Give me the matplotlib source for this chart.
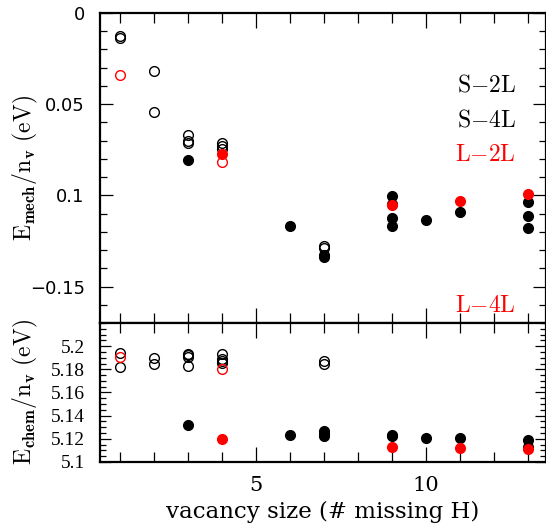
import matplotlib
matplotlib.use("Agg")
import matplotlib.pyplot as plt
from matplotlib.ticker import MultipleLocator

plt.rcParams["mathtext.fontset"] = "cm"

# vacancy size (# missing H) and energies per vacancy
mech_s2l_x = [1, 1, 2, 2, 3, 3, 3, 4, 4, 4, 7, 7]
mech_s2l_y = [-0.0124, -0.0135, -0.0318, -0.0544, -0.0668, -0.0700, -0.0712,
              -0.0714, -0.0730, -0.0745, -0.1276, -0.1289]
mech_s4l_x = [3, 6, 7, 7, 9, 9, 9, 9, 10, 11, 13, 13, 13]
mech_s4l_y = [-0.0805, -0.1166, -0.1325, -0.1340, -0.1006, -0.1045, -0.1124,
              -0.1170, -0.1134, -0.1090, -0.1037, -0.1115, -0.1181]
mech_l2l_x = [1, 4]
mech_l2l_y = [-0.0340, -0.0818]
mech_l4l_x = [4, 9, 11, 13]
mech_l4l_y = [-0.0774, -0.1055, -0.1033, -0.0990]

chem_s2l_x = [1, 1, 2, 2, 3, 3, 3, 3, 4, 4, 4, 4, 7, 7]
chem_s2l_y = [5.1945, 5.1824, 5.1900, 5.1843, 5.1933, 5.1922, 5.1910, 5.1829,
              5.1930, 5.1893, 5.1876, 5.1858, 5.1872, 5.1843]
chem_s4l_x = [3, 6, 7, 7, 7, 9, 9, 10, 11, 13, 13]
chem_s4l_y = [5.1322, 5.1232, 5.1264, 5.1243, 5.1223, 5.1232, 5.1220, 5.1211,
              5.1206, 5.1194, 5.1133]
chem_l2l_x = [1, 4]
chem_l2l_y = [5.1910, 5.1800]
chem_l4l_x = [4, 9, 11, 13]
chem_l4l_y = [5.1200, 5.1128, 5.1119, 5.1110]

mech_ticks = [0, -0.05, -0.1, -0.15]
mech_ticklabels = ["0", "0.05", "0.1", "\u22120.15"]
chem_ticks = [5.1, 5.12, 5.14, 5.16, 5.18, 5.2]
chem_ticklabels = ["5.1", "5.12", "5.14", "5.16", "5.18", "5.2"]
x_ticks = [5, 10]
labels = ["S\u22122L", "S\u22124L", "L\u22122L", "L\u22124L"]
label_colors = ["black", "black", "red", "red"]

fig = plt.figure(figsize=(5.46, 5.29), dpi=100)
ax1 = fig.add_axes([0.1832, 0.3894, 0.8168, 0.5860])
ax2 = fig.add_axes([0.1832, 0.1267, 0.8168, 0.2627])

ms = 7
def draw(ax, sx, sy, fx, fy, rx, ry, rfx, rfy):
    ax.plot(sx, sy, "o", ms=ms, mfc="none", mec="black", mew=1.0, ls="none")
    ax.plot(fx, fy, "o", ms=ms, mfc="black", mec="black", mew=1.0, ls="none")
    ax.plot(rx, ry, "o", ms=ms, mfc="none", mec="red", mew=1.0, ls="none")
    ax.plot(rfx, rfy, "o", ms=ms, mfc="red", mec="red", mew=1.0, ls="none")

draw(ax1, mech_s2l_x, mech_s2l_y, mech_s4l_x, mech_s4l_y,
     mech_l2l_x, mech_l2l_y, mech_l4l_x, mech_l4l_y)
draw(ax2, chem_s2l_x, chem_s2l_y, chem_s4l_x, chem_s4l_y,
     chem_l2l_x, chem_l2l_y, chem_l4l_x, chem_l4l_y)

for ax in (ax1, ax2):
    ax.set_xlim(0.42, 13.54)
    ax.xaxis.set_major_locator(MultipleLocator(5))
    ax.xaxis.set_minor_locator(MultipleLocator(1))
    ax.tick_params(which="both", direction="in", top=True, right=True, width=0.9)
    ax.tick_params(axis="x", which="major", length=11)
    ax.tick_params(axis="x", which="minor", length=7)
    for s in ax.spines.values():
        s.set_linewidth(1.6)

ax1.set_ylim(-0.17, 0)
ax1.set_yticks(mech_ticks, mech_ticklabels)
ax1.yaxis.set_minor_locator(MultipleLocator(0.01))
ax1.tick_params(axis="y", which="major", length=9.5, pad=11, labelsize=13)
ax1.tick_params(axis="y", which="minor", length=5)
ax1.tick_params(axis="x", labelbottom=False)
for t in ax1.get_yticklabels():
    t.set_fontfamily("DejaVu Sans")
ax1.set_ylabel(r"$\mathrm{E}_{\mathbf{mech}}/\mathrm{n}_{\mathbf{v}}\ \mathrm{(eV)}$", fontsize=17)
ax1.yaxis.set_label_coords(-0.135, 0.5)

for lab, col, yy in zip(labels, label_colors, [0.768, 0.658, 0.545, 0.058]):
    ax1.text(0.933, yy, r"$\mathrm{" + lab.replace("\u2212", "{-}") + "}$",
             transform=ax1.transAxes, ha="right", va="center", color=col, fontsize=17)

ax2.set_ylim(5.1, 5.22)
ax2.set_yticks(chem_ticks, chem_ticklabels)
ax2.yaxis.set_minor_locator(MultipleLocator(0.005))
ax2.tick_params(axis="y", which="major", length=8, pad=11, labelsize=14)
ax2.tick_params(axis="y", which="minor", length=4.5)
for t in ax2.get_yticklabels():
    t.set_fontfamily("Liberation Serif")
ax2.set_xticks(x_ticks, [str(v) for v in x_ticks])
ax2.tick_params(axis="x", which="major", pad=10, labelsize=15)
for t in ax2.get_xticklabels():
    t.set_fontfamily("DejaVu Serif")
ax2.set_ylabel(r"$\mathrm{E}_{\mathbf{chem}}/\mathrm{n}_{\mathbf{v}}\ \mathrm{(eV)}$", fontsize=17)
ax2.yaxis.set_label_coords(-0.135, 0.5)
ax2.set_xlabel("vacancy size (# missing H)", fontsize=16.5, family="DejaVu Serif", labelpad=4)

fig.savefig("out.png", dpi=100)
plt.close(fig)
